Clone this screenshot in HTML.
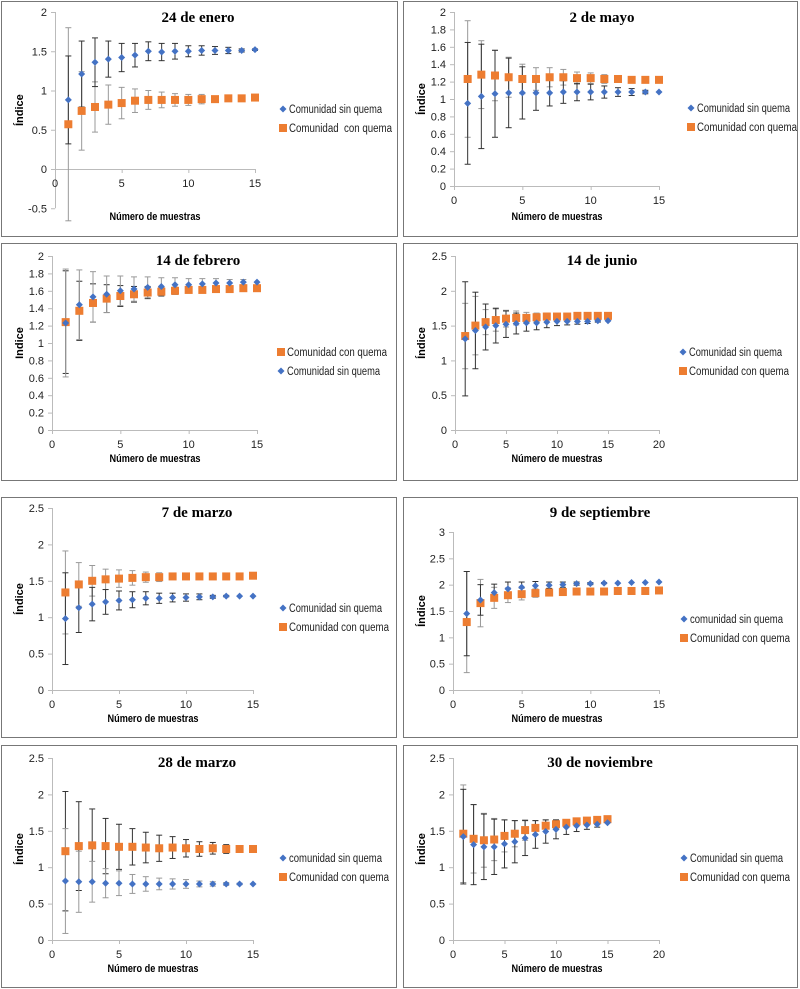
<!DOCTYPE html>
<html><head><meta charset="utf-8"><style>
html,body{margin:0;padding:0;background:#fff}
svg{display:block}
text{font-family:"Liberation Sans",sans-serif}
</style></head><body>
<svg id="s" width="800" height="989" xmlns="http://www.w3.org/2000/svg"></svg>
<script>
const P=[
{box:[1,1,396,235],x0:55,x1:255,xm:15,xs:5,y0:169,yT:12,ymin:-0.5,ymax:2,ys:0.5,yl:"Índice",title:"24 de enero",tx:198,ty:22,lx:283,ly:[109,128],xl:[155,220],
 leg:[["Comunidad sin quema","d"],["Comunidad  con quema","s"]],
 sin:[0.88,1.21,1.36,1.40,1.42,1.45,1.50,1.49,1.50,1.50,1.51,1.51,1.51,1.51,1.52],se:[0.56,0.42,0.31,0.23,0.18,0.15,0.12,0.11,0.10,0.07,0.06,0.05,0.04,0.02,0.01],sc:"#333",
 con:[0.57,0.74,0.79,0.82,0.84,0.87,0.88,0.88,0.88,0.88,0.89,0.89,0.90,0.90,0.91],ce:[1.23,0.50,0.32,0.25,0.20,0.15,0.12,0.10,0.08,0.07,0.06,0.04,0.03,0.02,0.01],cc:"#999"},
{box:[403,1,394,235],x0:454,x1:659,xm:15,xs:5,y0:186,yT:12,ymin:0,ymax:2,ys:0.2,yl:"Índice",title:"2 de mayo",tx:602,ty:22,lx:691,ly:[108,127],xl:[557,220],
 leg:[["Comunidad sin quema","d"],["Comunidad con quema","s"]],
 sin:[0.95,1.03,1.06,1.07,1.07,1.07,1.07,1.08,1.08,1.08,1.08,1.08,1.08,1.08,1.08],se:[0.7,0.6,0.5,0.4,0.3,0.2,0.15,0.13,0.1,0.09,0.07,0.05,0.04,0.02,0],sc:"#333",
 con:[1.23,1.28,1.27,1.25,1.23,1.23,1.25,1.25,1.24,1.24,1.23,1.23,1.22,1.22,1.22],ce:[0.67,0.39,0.29,0.23,0.17,0.13,0.11,0.09,0.07,0.06,0.05,0.04,0.02,0.01,0],cc:"#999"},
{box:[1,243,395,237],x0:52,x1:257,xm:15,xs:5,y0:430,yT:256,ymin:0,ymax:2,ys:0.2,yl:"Indice",title:"14 de febrero",tx:198,ty:265,lx:281,ly:[352,371],xl:[155,462],
 leg:[["Comunidad con quema","s"],["Comunidad sin quema","d"]],
 sin:[1.23,1.44,1.53,1.56,1.60,1.62,1.64,1.65,1.67,1.67,1.68,1.69,1.69,1.70,1.70],se:[0.62,0.4,0.29,0.21,0.17,0.14,0.12,0.1,0.08,0.07,0.06,0.05,0.04,0.03,0],sc:"#999",
 con:[1.24,1.37,1.46,1.51,1.54,1.56,1.58,1.59,1.60,1.61,1.61,1.62,1.62,1.63,1.63],ce:[0.59,0.34,0.22,0.16,0.12,0.09,0.07,0.05,0.04,0.03,0.03,0.02,0.01,0.01,0],cc:"#333"},
{box:[403,243,394,237],x0:455,x1:659,xm:20,xs:5,y0:430,yT:256,ymin:0,ymax:2.5,ys:0.5,yl:"Índice",title:"14 de junio",tx:602,ty:265,lx:683,ly:[352,371],xl:[557,462],
 leg:[["Comunidad sin quema","d"],["Comunidad con quema","s"]],
 sin:[1.31,1.43,1.48,1.50,1.52,1.53,1.54,1.54,1.55,1.56,1.56,1.56,1.56,1.57,1.57],se:[0.82,0.55,0.33,0.25,0.19,0.15,0.12,0.10,0.08,0.06,0.05,0.04,0.03,0.02,0],sc:"#333",
 con:[1.35,1.50,1.55,1.58,1.60,1.61,1.61,1.62,1.63,1.63,1.63,1.64,1.64,1.64,1.64],ce:[0.47,0.42,0.18,0.16,0.12,0.1,0.08,0.06,0.05,0.04,0.03,0.02,0.02,0.01,0],cc:"#999"},
{box:[1,497,395,240],x0:52,x1:253,xm:15,xs:5,y0:690,yT:508,ymin:0,ymax:2.5,ys:0.5,yl:"Índice",title:"7 de marzo",tx:197,ty:517,lx:283,ly:[608,627],xl:[153,722],
 leg:[["Comunidad sin quema","d"],["Comunidad con quema","s"]],
 sin:[0.98,1.13,1.18,1.21,1.23,1.24,1.26,1.26,1.27,1.27,1.28,1.28,1.29,1.29,1.29],se:[0.63,0.34,0.23,0.17,0.13,0.11,0.09,0.07,0.06,0.05,0.04,0.02,0.01,0,0],sc:"#333",
 con:[1.34,1.45,1.50,1.52,1.53,1.54,1.55,1.55,1.56,1.56,1.56,1.56,1.56,1.56,1.57],ce:[0.57,0.3,0.21,0.14,0.12,0.1,0.07,0.06,0.04,0.03,0.02,0.01,0,0,0],cc:"#999"},
{box:[403,497,394,240],x0:453,x1:659,xm:15,xs:5,y0:690,yT:532,ymin:0,ymax:3,ys:0.5,yl:"Índice",title:"9 de septiembre",tx:600,ty:517,lx:684,ly:[619,638],xl:[557,722],
 leg:[["comunidad sin quema","d"],["Comunidad con quema","s"]],
 sin:[1.45,1.71,1.85,1.92,1.95,1.98,1.99,2.00,2.02,2.02,2.03,2.03,2.04,2.04,2.05],se:[0.8,0.29,0.16,0.13,0.1,0.08,0.06,0.05,0.03,0.02,0.01,0,0,0,0],sc:"#333",
 con:[1.29,1.65,1.75,1.80,1.82,1.84,1.85,1.86,1.87,1.87,1.87,1.88,1.88,1.88,1.89],ce:[0.96,0.45,0.2,0.14,0.11,0.08,0.06,0.04,0.02,0.01,0,0,0,0,0],cc:"#999"},
{box:[1,745,395,242],x0:52,x1:253,xm:15,xs:5,y0:940,yT:758,ymin:0,ymax:2.5,ys:0.5,yl:"Índice",title:"28 de marzo",tx:197,ty:767,lx:283,ly:[858,877],xl:[153,972],
 leg:[["comunidad sin quema","d"],["Comunidad con quema","s"]],
 sin:[0.81,0.80,0.80,0.78,0.78,0.77,0.77,0.77,0.77,0.77,0.77,0.77,0.77,0.77,0.77],se:[0.72,0.42,0.28,0.2,0.17,0.13,0.1,0.08,0.07,0.06,0.04,0.03,0.02,0.01,0],sc:"#999",
 con:[1.22,1.29,1.30,1.29,1.28,1.28,1.27,1.26,1.27,1.26,1.25,1.26,1.25,1.25,1.25],ce:[0.82,0.61,0.5,0.38,0.31,0.25,0.21,0.18,0.15,0.12,0.1,0.08,0.06,0.04,0],cc:"#333"},
{box:[403,745,394,242],x0:453,x1:659,xm:20,xs:5,y0:940,yT:758,ymin:0,ymax:2.5,ys:0.5,yl:"Índice",title:"30 de noviembre",tx:600,ty:767,lx:684,ly:[858,877],xl:[557,972],
 leg:[["Comunidad sin quema","d"],["Comunidad con quema","s"]],
 sin:[1.42,1.31,1.28,1.28,1.32,1.35,1.40,1.45,1.49,1.52,1.55,1.57,1.58,1.59,1.61],se:[0.65,0.55,0.45,0.38,0.33,0.29,0.24,0.19,0.16,0.13,0.1,0.08,0.06,0.04,0],sc:"#333",
 con:[1.46,1.39,1.37,1.38,1.43,1.46,1.51,1.54,1.57,1.59,1.61,1.63,1.64,1.65,1.66],ce:[0.67,0.47,0.37,0.29,0.22,0.18,0.14,0.1,0.08,0.06,0.04,0.03,0.02,0.01,0],cc:"#999"}
];
let h='';
const B="#4472C4",O="#ED7D31";
function dia(x,y,r){return `<polygon points="${x},${y-r} ${x+r},${y} ${x},${y+r} ${x-r},${y}" fill="${B}"/>`}
function sq(x,y,r){return `<rect x="${x-r}" y="${y-r}" width="${2*r}" height="${2*r}" fill="${O}"/>`}
for(const p of P){
 const [bx,by,bw,bh]=p.box;
 h+=`<rect x="${bx+0.5}" y="${by+0.5}" width="${bw}" height="${bh}" fill="#fff" stroke="#777" stroke-width="1"/>`;
 const ky=(p.y0-p.yT)/(p.ymax-(p.ymin<0?0:p.ymin));
 const Y=v=>p.y0-v*ky, X=v=>p.x0+(p.x1-p.x0)*v/p.xm;
 const ybot=Y(p.ymin);
 h+=`<line x1="${p.x0+0.5}" y1="${p.yT}" x2="${p.x0+0.5}" y2="${ybot}" stroke="#bbb"/>`;
 h+=`<line x1="${p.x0}" y1="${p.y0+0.5}" x2="${p.x1}" y2="${p.y0+0.5}" stroke="#bbb"/>`;
 for(let v=p.ymin;v<=p.ymax+1e-9;v+=p.ys){const yy=Y(v);
  h+=`<line x1="${p.x0-4}" y1="${yy+0.5}" x2="${p.x0}" y2="${yy+0.5}" stroke="#bbb"/>`;
  h+=`<text x="${p.x0-8}" y="${yy+4}" font-size="11" text-anchor="end" fill="#222">${+v.toFixed(1)}</text>`;}
 for(let v=0;v<=p.xm;v+=p.xs){const xx=X(v);
  h+=`<line x1="${xx+0.5}" y1="${p.y0}" x2="${xx+0.5}" y2="${p.y0+4}" stroke="#bbb"/>`;
  h+=`<text x="${xx}" y="${p.y0+18}" font-size="11" text-anchor="middle" fill="#222">${v}</text>`;}
 const eb=(arr,err,c)=>{arr.forEach((v,i)=>{const e=err[i];if(e<=0)return;const x=X(i+1),a=Y(v+e),b=Y(v-e);
  h+=`<line x1="${x}" y1="${a}" x2="${x}" y2="${b}" stroke="${c}"/><line x1="${x-3}" y1="${a}" x2="${x+3}" y2="${a}" stroke="${c}"/><line x1="${x-3}" y1="${b}" x2="${x+3}" y2="${b}" stroke="${c}"/>`;});};
 eb(p.con,p.ce,p.cc);eb(p.sin,p.se,p.sc);
 p.con.forEach((v,i)=>h+=sq(X(i+1),Y(v),4));
 p.sin.forEach((v,i)=>h+=dia(X(i+1),Y(v),3.5));
 h+=`<text x="${p.tx}" y="${p.ty}" font-size="15" font-weight="bold" text-anchor="middle" style="font-family:'Liberation Serif',serif">${p.title}</text>`;
 const cy=(p.yT+ybot)/2;
 h+=`<text transform="translate(${bx+22},${cy}) rotate(-90)" font-size="11" font-weight="bold" text-anchor="middle">${p.yl}</text>`;
 h+=`<text x="${p.xl[0]-45.5}" y="${p.xl[1]}" font-size="11" font-weight="bold" textLength="91" lengthAdjust="spacingAndGlyphs">Número de muestras</text>`;
 p.leg.forEach((l,i)=>{const y=p.ly[i];
  h+=(l[1]=="d"?dia(p.lx,y,3.5):sq(p.lx,y,4));
  const tl=l[0].indexOf("sin")>=0?93:(l[0].indexOf("  ")>=0?103:100);
  h+=`<text x="${p.lx+6}" y="${y+4}" font-size="11.5" fill="#222" xml:space="preserve" textLength="${tl}" lengthAdjust="spacingAndGlyphs">${l[0]}</text>`;});
}
document.getElementById('s').innerHTML=h;
</script>
</body></html>
